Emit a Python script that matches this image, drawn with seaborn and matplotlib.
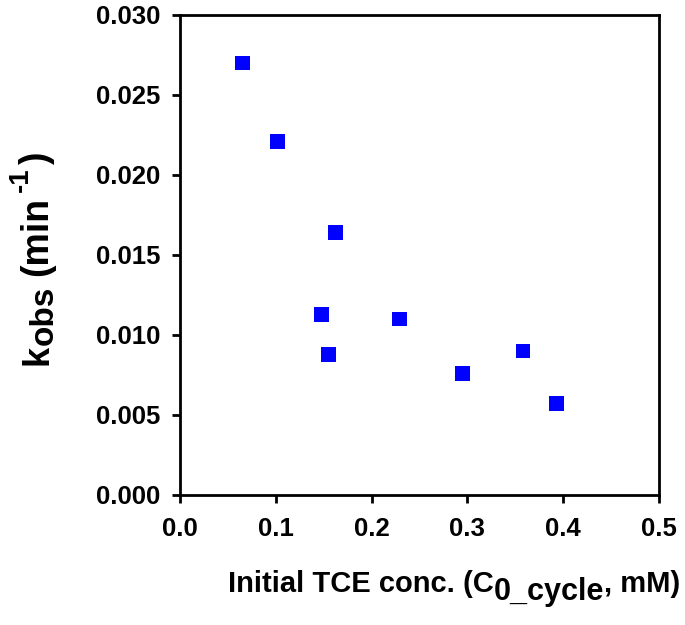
import numpy as np
import pandas as pd
import matplotlib
matplotlib.use('Agg')
import matplotlib.pyplot as plt
import matplotlib.transforms as mtransforms
import seaborn as sns

# values
conc = [0.065, 0.102, 0.162, 0.148, 0.155, 0.229, 0.295, 0.358, 0.393]
kobs = [0.0270, 0.0221, 0.0164, 0.0113, 0.0088, 0.0110, 0.0076, 0.0090, 0.0057]
xticks = [0.0, 0.1, 0.2, 0.3, 0.4, 0.5]
yticks = [0.000, 0.005, 0.010, 0.015, 0.020, 0.025, 0.030]

# axis titles as (text, size, baseline shift px, gap before px) pieces
xlabel_parts = [('Initial TCE conc. (C', 21, 0, 0), ('0_cycle', 22, -8, 0),
                (', mM)', 21, 0, 0)]
ylabel_parts = [('k', 26, 0, 0), ('obs', 24, -6, 0), ('(min', 27, 0, 9),
                ('-1', 20, 19, 5), (')', 27, 0, 3)]

df = pd.DataFrame({'conc': conc, 'kobs': kobs})

sns.set_style('ticks')
plt.rcParams['font.family'] = ['Liberation Sans', 'DejaVu Sans']
plt.rcParams['font.weight'] = 'bold'
plt.rcParams['text.color'] = 'black'
plt.rcParams['axes.labelcolor'] = 'black'
plt.rcParams['xtick.color'] = 'black'
plt.rcParams['ytick.color'] = 'black'

fig = plt.figure(figsize=(6.85, 6.25), dpi=100)
ax = fig.add_axes([180/685, 1 - 495/625, 479/685, 480/625])

sns.scatterplot(data=df, x='conc', y='kobs', marker='s', s=115,
                color='#0000ff', edgecolor='none', ax=ax, zorder=3)

ax.set_xlim(0, 0.5)
ax.set_ylim(0, 0.030)
ax.set_xticks(xticks)
ax.set_yticks(yticks)
ax.set_xticklabels([f'{v:.1f}' for v in xticks])
ax.set_yticklabels([f'{v:.3f}' for v in yticks])
ax.tick_params(axis='both', direction='out', length=6, width=2,
               labelsize=18.5, labelcolor='black', color='black')
ax.tick_params(axis='y', pad=8)
ax.tick_params(axis='x', pad=10)
for lab in ax.get_xticklabels() + ax.get_yticklabels():
    lab.set_fontweight('bold')
for sp in ax.spines.values():
    sp.set_linewidth(2)
    sp.set_color('black')
    sp.set_visible(True)
ax.set_xlabel('')
ax.set_ylabel('')


def compose(parts, x0, y0, rotation=0):
    # lay the pieces one after another along the baseline (pixel coords)
    renderer = fig.canvas.get_renderer()
    pos = 0
    for text, size, shift, gap in parts:
        pos += gap
        if rotation == 0:
            x, y = x0 + pos, y0 + shift
        else:
            x, y = x0 - shift, y0 + pos
        t = fig.text(x, y, text, fontsize=size, fontweight='bold',
                     rotation=rotation, rotation_mode='anchor',
                     ha='left', va='baseline',
                     transform=mtransforms.IdentityTransform())
        bb = t.get_window_extent(renderer)
        pos += bb.width if rotation == 0 else bb.height


compose(xlabel_parts, 228, 625 - 592)
compose(ylabel_parts, 47, 625 - 365, rotation=90)

fig.savefig('out.png', dpi=100)
